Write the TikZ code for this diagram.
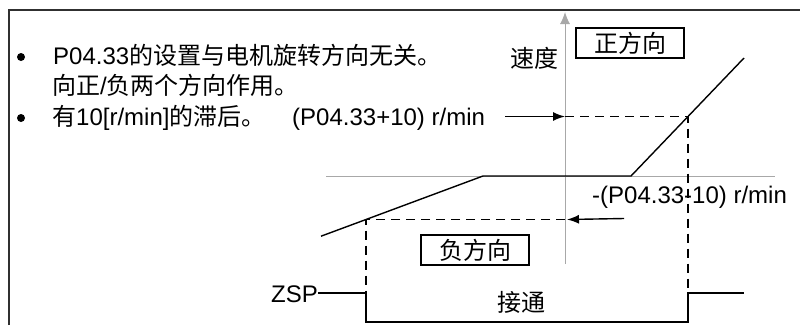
\documentclass[tikz,border=0pt]{standalone}
\usepackage{fontspec}
\setmainfont{Liberation Sans}
\newfontfamily\cjk{Noto Sans CJK SC}
\usetikzlibrary{arrows.meta}
\definecolor{axisgray}{HTML}{A8A8A8}
\definecolor{framegray}{HTML}{303030}
\begin{document}
\begin{tikzpicture}[x=1pt,y=-1pt,
  font=\fontsize{24}{30}\selectfont,
  frame/.style={draw=framegray,line width=1.6pt},
  axisline/.style={draw=axisgray,line width=1pt},
  curve/.style={draw=black,line width=1.4pt,line join=miter},
  guide/.style={draw=black,line width=1.4pt,dash pattern=on 9pt off 6pt},
  pointer/.style={draw=black,line width=1.4pt,-{Latex[length=12pt,width=9pt]}},
  lbl/.style={inner sep=0pt,anchor=base west},
  tagbox/.style={draw=black,line width=1.2pt,minimum width=108pt,minimum height=30pt,inner sep=0pt},
  bulletdot/.style={circle,fill=black,minimum size=8pt,inner sep=0pt},
  plain/.style={inner sep=0pt}]
\useasboundingbox (0,0) rectangle (800,325);
% frame
\coordinate (fBL) at (9,325);
\coordinate (fTL) at (9,10);
\coordinate (fTR) at (800,10);
\draw[frame] (fBL) -- (fTL) -- (fTR);
% axes
\coordinate (axB) at (565,264);
\coordinate (axT) at (565,12);
\coordinate (hL) at (326,176);
\coordinate (hR) at (775,176);
\draw[axisline] (hL) -- (hR);
\draw[axisline,-{Latex[length=12pt,width=10pt]}] (axB) -- (axT);
% characteristic curve
\coordinate (c0) at (321,236.2);
\coordinate (cN) at (366,219.5);
\coordinate (c1) at (483,176);
\coordinate (c2) at (631,176);
\coordinate (cP) at (688,116.5);
\coordinate (c3) at (744,58);
\draw[curve] (c0) -- (cN) -- (c1) -- (c2) -- (cP) -- (c3);
% axis crossing points
\coordinate (yP) at (565,116.5);
\coordinate (yN) at (565,219.5);
% ZSP signal
\coordinate (z1) at (366,293);
\coordinate (z2) at (366,322);
\coordinate (z3) at (688,322);
\coordinate (z4) at (688,293);
\coordinate (z5) at (744,293);
\node[plain,anchor=base east] (zsp) at (318,302) {ZSP};
\draw[curve] (zsp.east |- z1) -- (z1) -- (z2) -- (z3) -- (z4) -- (z5);
% dashed guides
\draw[guide] (yP) -- (cP) -- (z4);
\draw[guide] (yN) -- (cN) -- (z1);
% pointers
\coordinate (aP) at (505,116.5);
\coordinate (aN) at (624,218.5);
\draw[pointer] (aP) -- (yP);
\draw[pointer] (aN) -- ([xshift=2pt]yN);
% labels
\node[plain] (speed) at (534,58) {\cjk 速度};
\node[tagbox] (pos) at (630,43) {\cjk 正方向};
\node[tagbox] (neg) at (475,250) {\cjk 负方向};
\node[plain] (on) at (521,302) {\cjk 接通};
\node[lbl] (lblP) at (292,125) {(P04.33+10) r/min};
\node[lbl] (lblN) at (592,203) {-(P04.33-10) r/min};
% bullet text
\node[bulletdot] (b1) at (21,57) {};
\node[bulletdot] (b2) at (21,118) {};
\node[lbl] (t1) at (53,64) {P04.33{\cjk 的设置与电机旋转方向无关。}};
\node[lbl] (t2) at (52,94.5) {{\cjk 向正}/{\cjk 负两个方向作用。}};
\node[lbl] (t3) at (52,125) {{\cjk 有}10[r/min]{\cjk 的滞后。}};
\end{tikzpicture}
\end{document}
